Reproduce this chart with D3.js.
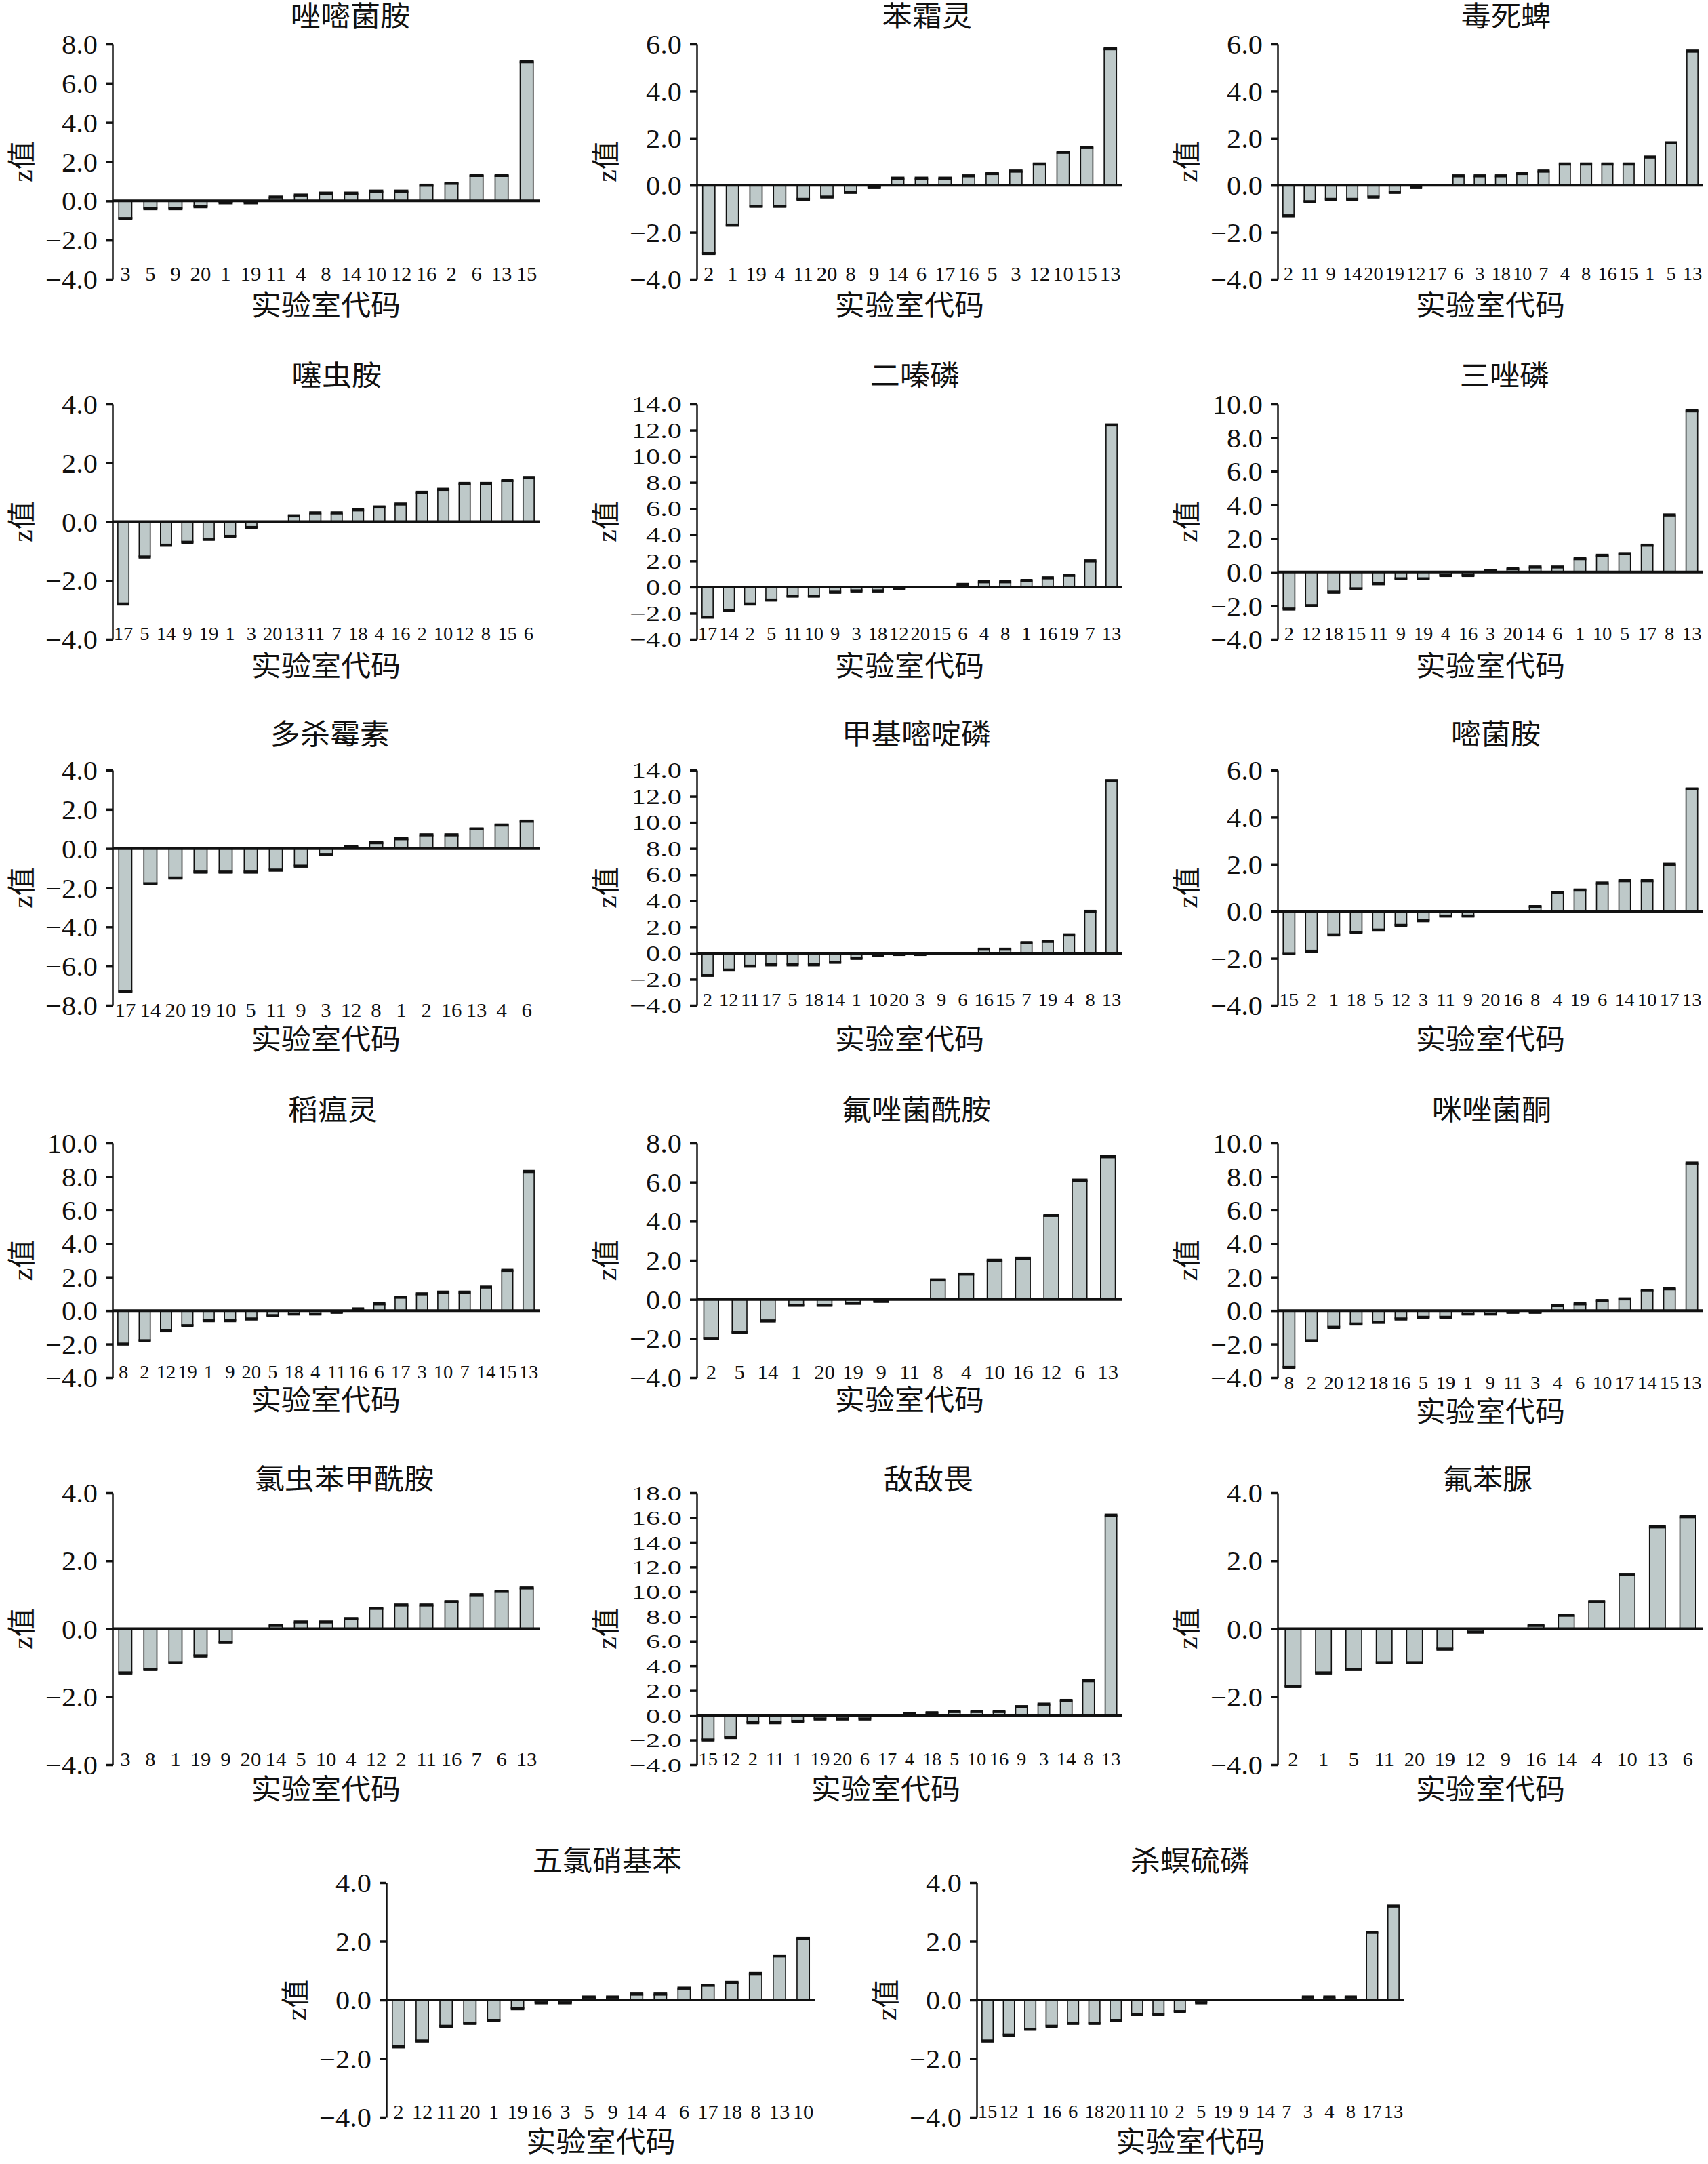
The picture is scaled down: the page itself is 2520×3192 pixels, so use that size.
<!DOCTYPE html>
<html>
<head>
<meta charset="utf-8">
<title>z值</title>
<script src="https://cdn.jsdelivr.net/npm/d3@7"></script>
<style>
  body { margin: 0; background: #fff; }
  svg { display: block; }
  text { font-family: "Liberation Serif", "Noto Sans CJK SC", serif; fill: #111; }
</style>
</head>
<body>
<svg width="2520" height="3192" id="mainsvg"></svg>
<script>
// ---- data ----
const titles = ['唑嘧菌胺', '苯霜灵', '毒死蜱', '噻虫胺', '二嗪磷', '三唑磷', '多杀霉素', '甲基嘧啶磷', '嘧菌胺',
  '稻瘟灵', '氟唑菌酰胺', '咪唑菌酮', '氯虫苯甲酰胺', '敌敌畏', '氟苯脲', '五氯硝基苯', '杀螟硫磷'];

const labCodes = [
  ['3','5','9','20','1','19','11','4','8','14','10','12','16','2','6','13','15'],
  ['2','1','19','4','11','20','8','9','14','6','17','16','5','3','12','10','15','13'],
  ['2','11','9','14','20','19','12','17','6','3','18','10','7','4','8','16','15','1','5','13'],
  ['17','5','14','9','19','1','3','20','13','11','7','18','4','16','2','10','12','8','15','6'],
  ['17','14','2','5','11','10','9','3','18','12','20','15','6','4','8','1','16','19','7','13'],
  ['2','12','18','15','11','9','19','4','16','3','20','14','6','1','10','5','17','8','13'],
  ['17','14','20','19','10','5','11','9','3','12','8','1','2','16','13','4','6'],
  ['2','12','11','17','5','18','14','1','10','20','3','9','6','16','15','7','19','4','8','13'],
  ['15','2','1','18','5','12','3','11','9','20','16','8','4','19','6','14','10','17','13'],
  ['8','2','12','19','1','9','20','5','18','4','11','16','6','17','3','10','7','14','15','13'],
  ['2','5','14','1','20','19','9','11','8','4','10','16','12','6','13'],
  ['8','2','20','12','18','16','5','19','1','9','11','3','4','6','10','17','14','15','13'],
  ['3','8','1','19','9','20','14','5','10','4','12','2','11','16','7','6','13'],
  ['15','12','2','11','1','19','20','6','17','4','18','5','10','16','9','3','14','8','13'],
  ['2','1','5','11','20','19','12','9','16','14','4','10','13','6'],
  ['2','12','11','20','1','19','16','3','5','9','14','4','6','17','18','8','13','10'],
  ['15','12','1','16','6','18','20','11','10','2','5','19','9','14','7','3','4','8','17','13']
];

const zValues = [
  [-0.9,-0.4,-0.4,-0.3,-0.1,-0.1,0.2,0.3,0.4,0.4,0.5,0.5,0.8,0.9,1.3,1.3,7.1],
  [-2.9,-1.7,-0.9,-0.9,-0.6,-0.5,-0.3,-0.1,0.3,0.3,0.3,0.4,0.5,0.6,0.9,1.4,1.6,5.8],
  [-1.3,-0.7,-0.6,-0.6,-0.5,-0.3,-0.1,0,0.4,0.4,0.4,0.5,0.6,0.9,0.9,0.9,0.9,1.2,1.8,5.7],
  [-2.8,-1.2,-0.8,-0.7,-0.6,-0.5,-0.2,0,0.2,0.3,0.3,0.4,0.5,0.6,1.0,1.1,1.3,1.3,1.4,1.5],
  [-2.3,-1.8,-1.3,-1.0,-0.7,-0.7,-0.4,-0.3,-0.3,-0.1,0,0,0.2,0.4,0.4,0.5,0.7,0.9,2.0,12.4],
  [-2.2,-2.0,-1.2,-1.0,-0.7,-0.4,-0.4,-0.2,-0.2,0.1,0.2,0.3,0.3,0.8,1.0,1.1,1.6,3.4,9.6],
  [-7.3,-1.8,-1.5,-1.2,-1.2,-1.2,-1.1,-0.9,-0.3,0.1,0.3,0.5,0.7,0.7,1.0,1.2,1.4],
  [-1.7,-1.3,-1.0,-0.9,-0.9,-0.9,-0.7,-0.4,-0.2,-0.1,-0.1,0,0,0.3,0.3,0.8,0.9,1.4,3.2,13.2],
  [-1.8,-1.7,-1.0,-0.9,-0.8,-0.6,-0.4,-0.2,-0.2,0,0,0.2,0.8,0.9,1.2,1.3,1.3,2.0,5.2],
  [-2.0,-1.8,-1.2,-0.9,-0.6,-0.6,-0.5,-0.3,-0.2,-0.2,-0.1,0.1,0.4,0.8,1.0,1.1,1.1,1.4,2.4,8.3],
  [-2.0,-1.7,-1.1,-0.3,-0.3,-0.2,-0.1,0,1.0,1.3,2.0,2.1,4.3,6.1,7.3],
  [-3.4,-1.8,-1.0,-0.8,-0.7,-0.5,-0.4,-0.4,-0.2,-0.2,-0.1,-0.1,0.3,0.4,0.6,0.7,1.2,1.3,8.8],
  [-1.3,-1.2,-1.0,-0.8,-0.4,0,0.1,0.2,0.2,0.3,0.6,0.7,0.7,0.8,1.0,1.1,1.2],
  [-2.0,-1.8,-0.6,-0.6,-0.5,-0.3,-0.3,-0.3,0,0.1,0.2,0.3,0.3,0.3,0.7,0.9,1.2,2.8,16.2],
  [-1.7,-1.3,-1.2,-1.0,-1.0,-0.6,-0.1,0,0.1,0.4,0.8,1.6,3.0,3.3],
  [-1.6,-1.4,-0.9,-0.8,-0.7,-0.3,-0.1,-0.1,0.1,0.1,0.2,0.2,0.4,0.5,0.6,0.9,1.5,2.1],
  [-1.4,-1.2,-1.0,-0.9,-0.8,-0.8,-0.7,-0.5,-0.5,-0.4,-0.1,0,0,0,0,0.1,0.1,0.1,2.3,3.2]
];

const yDomains = [[-4,8],[-4,6],[-4,6],[-4,4],[-4,14],[-4,10],[-8,4],[-4,14],[-4,6],
  [-4,10],[-4,8],[-4,10],[-4,4],[-4,18],[-4,4],[-4,4],[-4,4]];

// ---- layout (pixels) ----
const colX = [[166, 796], [1028, 1656], [1885, 2513]];
const rowY = [[65, 412], [596, 943], [1136, 1483], [1686, 2032], [2202, 2603], [2777, 3123]];
const titlePos = [[517,25],[1368,25],[2222,25],[497,555],[1350,555],[2220,555],[487,1084],[1352,1084],[2207,1084],
  [491,1638],[1352,1638],[2201,1638],[508,2183],[1370,2183],[2195,2183],[896,2746],[1756,2746]];
const labelShift = {6: 7, 7: -8, 8: -8, 11: 8};   // code label centre relative to bottom (default -8)
const xTitleY = [451,451,451,983,983,983,1534,1534,1534,2066,2066,2083,2640,2640,2640,3160,3160];
const xTitleShift = {13: -35};

const SX = 1.06, SXC = 1.05;   // slight horizontal stretch of the source figure
const fmt = d3.format('.1f');
const svg = d3.select('#mainsvg');
svg.append('rect').attr('width', 2520).attr('height', 3192).attr('fill', '#fff');

titles.forEach((name, i) => {
  const row = Math.floor(i / 3);
  let x0, x1;
  if (i < 15) [x0, x1] = colX[i % 3];
  else [x0, x1] = i === 15 ? [570, 1203] : [1441, 2072];
  const [y0, y1] = rowY[row];
  const codes = labCodes[i], vals = zValues[i], dom = yDomains[i];

  const x = d3.scaleBand().domain(d3.range(codes.length)).range([x0, x1])
    .paddingInner(0.48).paddingOuter(0.25);
  const y = d3.scaleLinear().domain(dom).range([y1, y0]);
  const g = svg.append('g');

  // y axis; on crowded axes the labels get a smaller size but keep their width
  const tickVals = d3.range(dom[0], dom[1] + 0.1, 2);
  const gap = (y1 - y0) / (tickVals.length - 1);
  const fs = Math.min(40, gap * 0.82);
  const sx = SX * 40 / fs;
  const yAxis = d3.axisLeft(y).tickValues(tickVals).tickFormat(fmt).tickSize(10).tickSizeOuter(0);
  const ag = g.append('g').attr('transform', `translate(${x0},0)`).call(yAxis);
  ag.select('.domain').attr('stroke', '#111').attr('stroke-width', 2.5);
  ag.selectAll('.tick line').attr('stroke', '#111').attr('stroke-width', 3.5);
  ag.selectAll('.tick text').attr('font-size', fs).attr('x', -22 / sx).attr('dy', '0.34em')
    .attr('transform', `scale(${sx},1)`).attr('fill', '#111');

  // bars
  const bars = vals.map((v, j) => ({v, j})).filter(d => d.v !== 0);
  g.selectAll('rect.bar').data(bars).join('rect').attr('class', 'bar')
    .attr('x', d => x(d.j)).attr('width', x.bandwidth())
    .attr('y', d => y(Math.max(0, d.v))).attr('height', d => Math.abs(y(d.v) - y(0)))
    .attr('fill', '#bec9c9').attr('stroke', '#111').attr('stroke-width', 1.6);
  g.selectAll('line.cap').data(bars).join('line').attr('class', 'cap')
    .attr('x1', d => x(d.j) - 0.8).attr('x2', d => x(d.j) + x.bandwidth() + 0.8)
    .attr('y1', d => y(d.v)).attr('y2', d => y(d.v))
    .attr('stroke', '#111').attr('stroke-width', 4.5);

  // zero line
  g.append('line').attr('x1', x0).attr('x2', x1).attr('y1', y(0)).attr('y2', y(0))
    .attr('stroke', '#111').attr('stroke-width', 4);

  // lab codes
  const ly = y1 + (labelShift[i] !== undefined ? labelShift[i] : -8);
  const cfs = codes.length >= 19 ? 27 : 29;
  g.selectAll('text.code').data(codes).join('text').attr('class', 'code')
    .attr('transform', (d, j) => `translate(${x(j) + x.bandwidth() / 2},${ly}) scale(${SX},1)`)
    .attr('text-anchor', 'middle').attr('dominant-baseline', 'central')
    .attr('font-size', cfs).text(d => d);

  // titles
  g.append('text').attr('transform', `translate(${titlePos[i][0]},${titlePos[i][1]}) scale(${SXC},1)`)
    .attr('text-anchor', 'middle').attr('dominant-baseline', 'central')
    .attr('font-size', 42).text(name);
  g.append('text')
    .attr('transform', `translate(${(x0 + x1) / 2 + (xTitleShift[i] || 0)},${xTitleY[i]}) scale(${SXC},1)`)
    .attr('text-anchor', 'middle').attr('dominant-baseline', 'central')
    .attr('font-size', 42).text('实验室代码');
  g.append('text').attr('transform', `translate(${x0 - 133},${(y0 + y1) / 2}) rotate(-90)`)
    .attr('text-anchor', 'middle').attr('dominant-baseline', 'central')
    .attr('font-size', 42).text('z值');
});
</script>
</body>
</html>
